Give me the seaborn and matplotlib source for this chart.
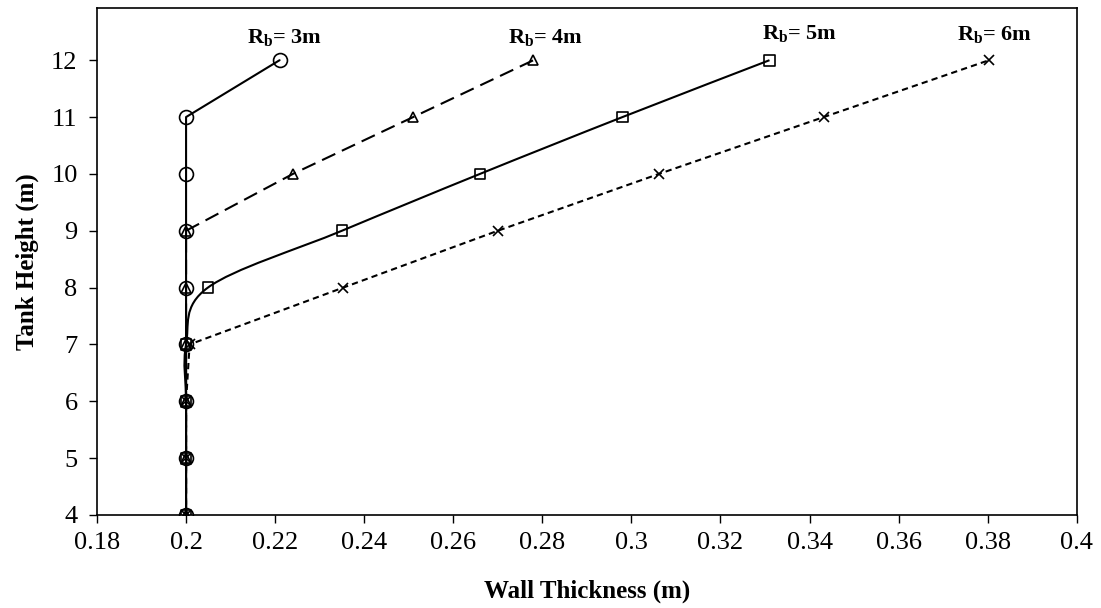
import numpy as np
import pandas as pd
import matplotlib
matplotlib.use("Agg")
import matplotlib.pyplot as plt
from matplotlib.path import Path
from matplotlib.patches import PathPatch
import seaborn as sns

# Tank heights (m) and required wall thickness (m) for each base radius
heights = [4, 5, 6, 7, 8, 9, 10, 11, 12]
t_rb3 = [0.2, 0.2, 0.2, 0.2, 0.2, 0.2, 0.2, 0.2, 0.221]
t_rb4 = [0.2, 0.2, 0.2, 0.2, 0.2, 0.2, 0.224, 0.251, 0.278]
t_rb5 = [0.2, 0.2, 0.2, 0.2, 0.2049, 0.235, 0.266, 0.298, 0.331]
t_rb6 = [0.2, 0.2, 0.2, 0.2008, 0.2353, 0.270, 0.3062, 0.3432, 0.3803]

labels = ["3m", "4m", "5m", "6m"]
label_pos = [(0.2222, 12.30), (0.2808, 12.30), (0.3378, 12.38), (0.3816, 12.35)]

sns.set_theme(style="white")
plt.rcParams["font.family"] = ["Liberation Serif", "DejaVu Serif"]
plt.rcParams["mathtext.fontset"] = "custom"
plt.rcParams["mathtext.rm"] = "Liberation Serif"
plt.rcParams["mathtext.bf"] = "Liberation Serif:bold"
plt.rcParams["text.color"] = "black"
plt.rcParams["axes.labelcolor"] = "black"

fig = plt.figure(figsize=(11.01, 6.08), dpi=100)
ax = fig.add_axes([0.0881, 0.153, 0.978 - 0.0881, 0.987 - 0.153])

df3 = pd.DataFrame({"t": t_rb3, "h": heights})
df4 = pd.DataFrame({"t": t_rb4, "h": heights})
df5 = pd.DataFrame({"t": t_rb5, "h": heights})
df6 = pd.DataFrame({"t": t_rb6, "h": heights})

common = dict(x="t", y="h", estimator=None, sort=False, color="black",
              ax=ax, markerfacecolor="none", markeredgecolor="black",
              markeredgewidth=1.2)

sns.lineplot(data=df3, marker="o", markersize=10, linewidth=1.5, **common)
sns.lineplot(data=df4, marker="^", markersize=7.5, linewidth=1.5,
             dashes=False, **common)
ax.lines[-1].set_dashes([7, 3.5])
sns.lineplot(data=df6, marker="x", markersize=7, linewidth=1.5, **common)
ax.lines[-1].set_dashes([3, 2])


def smooth_path(xs, ys):
    """Cubic Bezier segments through the points (Catmull-Rom tangents)."""
    pts = np.column_stack([xs, ys]).astype(float)
    n = len(pts)
    verts = [pts[0]]
    codes = [Path.MOVETO]
    for i in range(n - 1):
        p0 = pts[i - 1] if i > 0 else pts[i]
        p1 = pts[i]
        p2 = pts[i + 1]
        p3 = pts[i + 2] if i + 2 < n else pts[i + 1]
        c1 = p1 + (p2 - p0) / 6.0
        c2 = p2 - (p3 - p1) / 6.0
        verts += [c1, c2, p2]
        codes += [Path.CURVE4] * 3
    return Path(verts, codes)


ax.add_patch(PathPatch(smooth_path(t_rb5, heights), fill=False,
                       edgecolor="black", linewidth=1.5))
sns.scatterplot(data=df5, x="t", y="h", marker="s", s=60, facecolor="none",
                edgecolor="black", linewidth=1.2, ax=ax, zorder=3)

for lab, (lx, ly) in zip(labels, label_pos):
    ax.text(lx, ly, r"$\mathbf{R_b}$= " + lab, ha="center", va="baseline",
            fontsize=16, fontweight="bold", color="black")

ax.set_xlim(0.18, 0.4)
ax.set_ylim(4, 12.92)
ax.set_xticks(np.arange(0.18, 0.4001, 0.02))
ax.set_xticklabels(["0.18", "0.2", "0.22", "0.24", "0.26", "0.28", "0.3",
                    "0.32", "0.34", "0.36", "0.38", "0.4"])
ax.set_yticks(range(4, 13))
ax.tick_params(axis="both", direction="out", length=6, width=1,
               labelsize=19, color="black", labelcolor="black",
               bottom=True, left=True)
ax.tick_params(axis="x", pad=6)
ax.tick_params(axis="y", pad=8)
for sp in ax.spines.values():
    sp.set_color("black")
    sp.set_linewidth(1.2)

ax.set_xlabel("Wall Thickness (m)", fontsize=18, fontweight="bold",
              labelpad=19, color="black")
ax.set_ylabel("Tank Height (m)", fontsize=18, fontweight="bold",
              labelpad=9, color="black")

fig.savefig("out.png", dpi=100)
